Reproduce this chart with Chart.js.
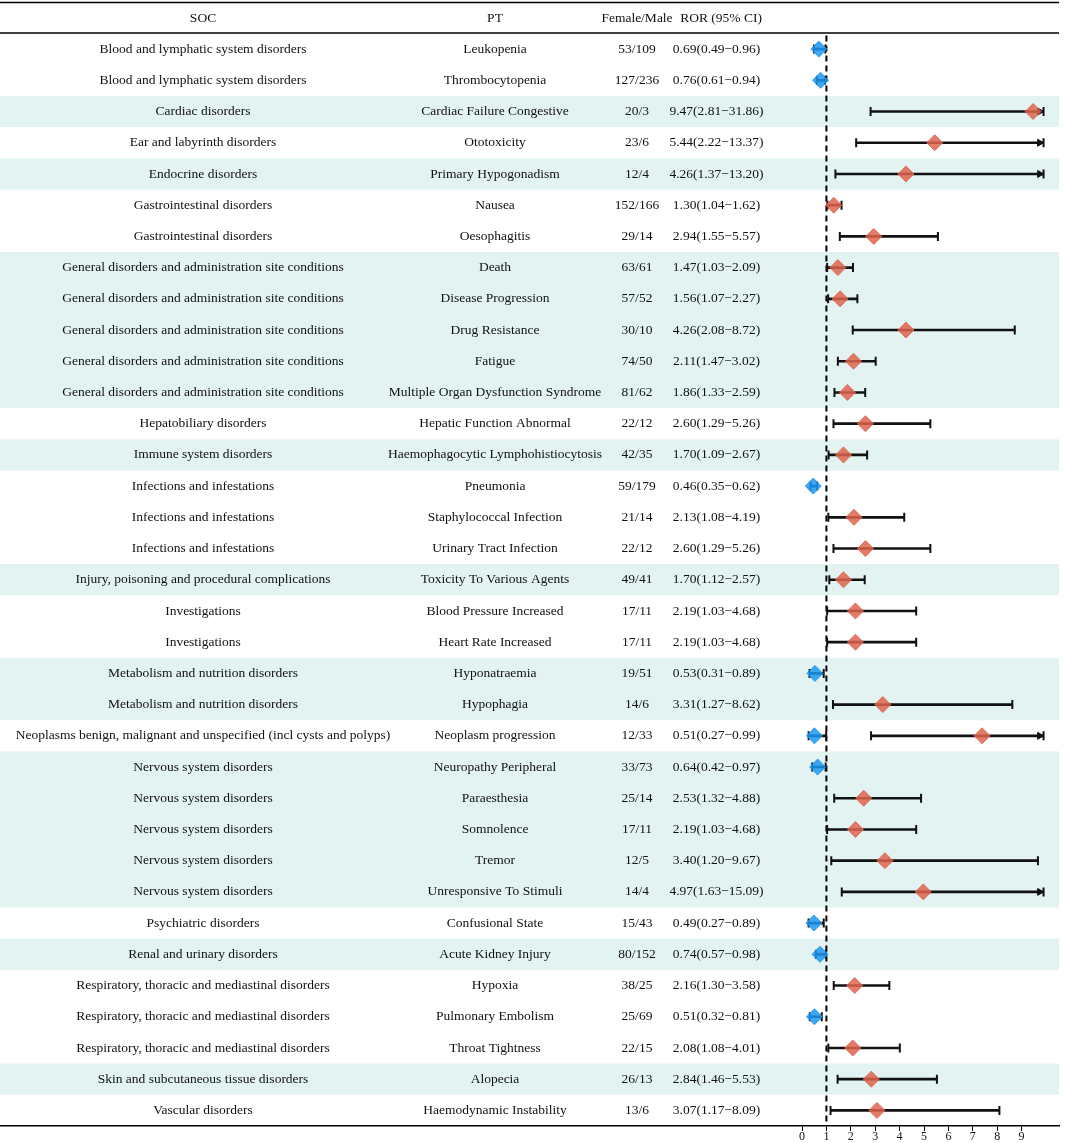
<!DOCTYPE html>
<html>
<head>
<meta charset="utf-8">
<script src="https://cdn.jsdelivr.net/npm/chart.js@4.4.1/dist/chart.umd.min.js"></script>
<style>
  html, body { margin: 0; padding: 0; background: #fff; }
  #wrap { width: 1065px; height: 1143px; overflow: hidden; }
</style>
</head>
<body>
<div id="wrap"><canvas id="forest" width="1065" height="1143"></canvas></div>
<script>
// Table columns
const socList = [
  'Blood and lymphatic system disorders', 'Blood and lymphatic system disorders',
  'Cardiac disorders', 'Ear and labyrinth disorders', 'Endocrine disorders',
  'Gastrointestinal disorders', 'Gastrointestinal disorders',
  'General disorders and administration site conditions', 'General disorders and administration site conditions',
  'General disorders and administration site conditions', 'General disorders and administration site conditions',
  'General disorders and administration site conditions',
  'Hepatobiliary disorders', 'Immune system disorders',
  'Infections and infestations', 'Infections and infestations', 'Infections and infestations',
  'Injury, poisoning and procedural complications',
  'Investigations', 'Investigations',
  'Metabolism and nutrition disorders', 'Metabolism and nutrition disorders',
  'Neoplasms benign, malignant and unspecified (incl cysts and polyps)',
  'Nervous system disorders', 'Nervous system disorders', 'Nervous system disorders',
  'Nervous system disorders', 'Nervous system disorders',
  'Psychiatric disorders', 'Renal and urinary disorders',
  'Respiratory, thoracic and mediastinal disorders', 'Respiratory, thoracic and mediastinal disorders',
  'Respiratory, thoracic and mediastinal disorders',
  'Skin and subcutaneous tissue disorders', 'Vascular disorders'
];
const ptList = [
  'Leukopenia', 'Thrombocytopenia', 'Cardiac Failure Congestive', 'Ototoxicity', 'Primary Hypogonadism',
  'Nausea', 'Oesophagitis', 'Death', 'Disease Progression', 'Drug Resistance', 'Fatigue',
  'Multiple Organ Dysfunction Syndrome', 'Hepatic Function Abnormal', 'Haemophagocytic Lymphohistiocytosis',
  'Pneumonia', 'Staphylococcal Infection', 'Urinary Tract Infection', 'Toxicity To Various Agents',
  'Blood Pressure Increased', 'Heart Rate Increased', 'Hyponatraemia', 'Hypophagia', 'Neoplasm progression',
  'Neuropathy Peripheral', 'Paraesthesia', 'Somnolence', 'Tremor', 'Unresponsive To Stimuli',
  'Confusional State', 'Acute Kidney Injury', 'Hypoxia', 'Pulmonary Embolism', 'Throat Tightness',
  'Alopecia', 'Haemodynamic Instability'
];
const femaleMale = [
  '53/109', '127/236', '20/3', '23/6', '12/4', '152/166', '29/14', '63/61', '57/52', '30/10', '74/50',
  '81/62', '22/12', '42/35', '59/179', '21/14', '22/12', '49/41', '17/11', '17/11', '19/51', '14/6',
  '12/33', '33/73', '25/14', '17/11', '12/5', '14/4', '15/43', '80/152', '38/25', '25/69', '22/15',
  '26/13', '13/6'
];
const ror = [0.69, 0.76, 9.47, 5.44, 4.26, 1.30, 2.94, 1.47, 1.56, 4.26, 2.11, 1.86, 2.60, 1.70, 0.46,
  2.13, 2.60, 1.70, 2.19, 2.19, 0.53, 3.31, 0.51, 0.64, 2.53, 2.19, 3.40, 4.97, 0.49, 0.74, 2.16, 0.51,
  2.08, 2.84, 3.07];
const ciLow = [0.49, 0.61, 2.81, 2.22, 1.37, 1.04, 1.55, 1.03, 1.07, 2.08, 1.47, 1.33, 1.29, 1.09, 0.35,
  1.08, 1.29, 1.12, 1.03, 1.03, 0.31, 1.27, 0.27, 0.42, 1.32, 1.03, 1.20, 1.63, 0.27, 0.57, 1.30, 0.32,
  1.08, 1.46, 1.17];
const ciHigh = [0.96, 0.94, 31.86, 13.37, 13.20, 1.62, 5.57, 2.09, 2.27, 8.72, 3.02, 2.59, 5.26, 2.67, 0.62,
  4.19, 5.26, 2.57, 4.68, 4.68, 0.89, 8.62, 0.99, 0.97, 4.88, 4.68, 9.67, 15.09, 0.89, 0.98, 3.58, 0.81,
  4.01, 5.53, 8.09];

// extra mark drawn on the neoplasm row in the original figure
const extraRow = [22];
const extraRor = [7.38];
const extraLow = [2.83];
const extraHigh = [31.86];

const xTicks = [0, 1, 2, 3, 4, 5, 6, 7, 8, 9];
const axisCap = 9.9;

// Layout constants
const FONT = '"Liberation Serif", "Times New Roman", serif';
const colX = { soc: 203, pt: 495, fm: 637, ror: 716.5 };
const headX = { soc: 203, pt: 495, fm: 637, ror: 721 };
const RED = 'rgba(222, 100, 78, 0.85)';
const BLUE = 'rgba(28, 150, 240, 0.85)';

const fmt = (v) => v.toFixed(2);
const rorText = ror.map((v, i) => `${fmt(v)}(${fmt(ciLow[i])}\u2212${fmt(ciHigh[i])})`);

// all plotted marks (table rows + extra)
const plotRow = ror.map((_, i) => i).concat(extraRow);
const plotRor = ror.concat(extraRor);
const plotLow = ciLow.concat(extraLow);
const plotHigh = ciHigh.concat(extraHigh);

const barData = plotRow.map((r, i) => ({ x: [plotLow[i], Math.min(plotHigh[i], axisCap)], y: r }));
const diamondData = plotRow.map((r, i) => ({ x: plotRor[i], y: r }));
const diamondColors = plotRor.map(v => v > 1 ? RED : BLUE);
const capData = [];
plotRow.forEach((r, i) => {
  capData.push({ x: plotLow[i], y: r });
  capData.push({ x: Math.min(plotHigh[i], axisCap), y: r });
});
const arrowData = plotRow.filter((r, i) => plotHigh[i] > axisCap)
  .map(r => ({ x: axisCap - 0.16, y: r }));

// shading groups by SOC
const groupIdx = [];
socList.forEach((s, i) => {
  groupIdx.push(i === 0 ? 0 : (s === socList[i - 1] ? groupIdx[i - 1] : groupIdx[i - 1] + 1));
});

const tablePlugin = {
  id: 'tablePlugin',
  beforeDatasetsDraw(chart) {
    const { ctx, chartArea, scales } = chart;
    const y = scales.y, x = scales.x;
    ctx.save();
    // row bands
    ctx.fillStyle = '#e3f3f2';
    socList.forEach((s, i) => {
      if (groupIdx[i] % 2 === 1) {
        const top = y.getPixelForValue(i - 0.5);
        const bot = y.getPixelForValue(i + 0.5);
        ctx.fillRect(chartArea.left, top, chartArea.right - chartArea.left, bot - top);
      }
    });
    // header rules
    ctx.strokeStyle = '#000';
    ctx.lineWidth = 1.6;
    ctx.beginPath();
    ctx.moveTo(chartArea.left, 2.5); ctx.lineTo(chartArea.right, 2.5);
    ctx.moveTo(chartArea.left, chartArea.top - 0.5); ctx.lineTo(chartArea.right, chartArea.top - 0.5);
    ctx.stroke();
    // text
    ctx.fillStyle = '#111';
    ctx.font = `13.5px ${FONT}`;
    ctx.textAlign = 'center';
    ctx.textBaseline = 'middle';
    ctx.fillText('SOC', headX.soc, 18.5);
    ctx.fillText('PT', headX.pt, 18.5);
    ctx.fillText('Female/Male', headX.fm, 18.5);
    ctx.fillText('ROR (95% CI)', headX.ror, 18.5);
    socList.forEach((s, i) => {
      const py = y.getPixelForValue(i);
      ctx.fillText(s, colX.soc, py);
      ctx.fillText(ptList[i], colX.pt, py);
      ctx.fillText(femaleMale[i], colX.fm, py);
      ctx.fillText(rorText[i], colX.ror, py);
    });
    // reference line at ROR = 1
    const x1 = x.getPixelForValue(1);
    ctx.setLineDash([6, 4]);
    ctx.lineWidth = 2;
    ctx.beginPath();
    ctx.moveTo(x1, chartArea.top + 2);
    ctx.lineTo(x1, chartArea.bottom);
    ctx.stroke();
    ctx.restore();
  }
};

new Chart(document.getElementById('forest'), {
  type: 'bar',
  data: {
    datasets: [
      {
        type: 'scatter',
        data: diamondData,
        pointStyle: 'rectRot',
        pointRadius: 8,
        backgroundColor: diamondColors,
        borderColor: diamondColors,
        borderWidth: 1,
        order: 0
      },
      {
        type: 'scatter',
        data: arrowData,
        pointStyle: 'triangle',
        rotation: 90,
        pointRadius: 4,
        backgroundColor: '#111',
        borderColor: '#111',
        borderWidth: 1,
        order: 1
      },
      {
        type: 'scatter',
        data: capData,
        pointStyle: 'line',
        rotation: 90,
        pointRadius: 4.5,
        borderColor: '#111',
        borderWidth: 2,
        order: 2
      },
      {
        type: 'bar',
        indexAxis: 'y',
        data: barData,
        backgroundColor: '#111',
        barThickness: 2,
        borderSkipped: false,
        order: 3
      }
    ]
  },
  options: {
    responsive: false,
    animation: false,
    events: [],
    layout: { autoPadding: false, padding: { top: 33.5, left: 0, right: 6, bottom: 0 } },
    plugins: { legend: { display: false }, tooltip: { enabled: false } },
    scales: {
      x: {
        type: 'linear',
        offset: false,
        bounds: 'data',
        min: -802 / 24.4,
        max: (1059 - 802) / 24.4,
        afterBuildTicks: (scale) => { scale.ticks = xTicks.map(v => ({ value: v })); },
        afterFit: (scale) => { scale.paddingLeft = 0; scale.paddingRight = 0; },
        grid: { drawOnChartArea: false, drawTicks: true, tickLength: 5, color: '#000', lineWidth: 1, offset: false },
        border: { display: true, color: '#000', width: 1.6 },
        ticks: {
          color: '#111',
          padding: 0,
          maxRotation: 0,
          autoSkip: false,
          font: { family: FONT, size: 12, lineHeight: 1 },
          callback: (v) => String(v)
        }
      },
      y: {
        type: 'linear',
        offset: false,
        reverse: true,
        min: -0.5,
        max: socList.length - 0.5,
        display: false,
        grid: { offset: false }
      }
    }
  },
  plugins: [tablePlugin]
});
</script>
</body>
</html>
